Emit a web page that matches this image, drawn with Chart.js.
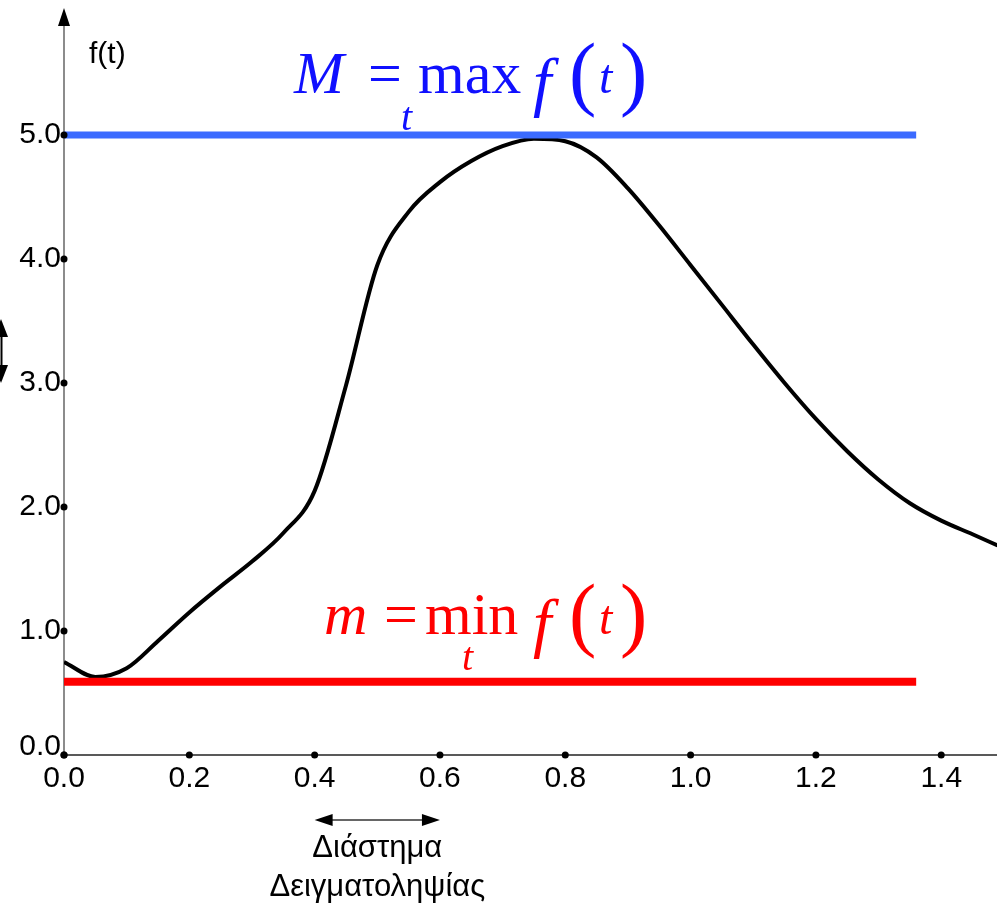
<!DOCTYPE html>
<html>
<head>
<meta charset="utf-8">
<script src="https://cdn.jsdelivr.net/npm/chart.js@4/dist/chart.umd.min.js"></script>
<style>
  html, body { margin: 0; padding: 0; background: #ffffff; }
  #wrap { width: 997px; height: 903px; position: relative; }
</style>
</head>
<body>
<div id="wrap"><canvas id="c" width="997" height="903"></canvas></div>
<script>
// ---- data ----
const tValues = [0.00, 0.05, 0.10, 0.15, 0.20, 0.25, 0.30, 0.35, 0.40, 0.45, 0.50, 0.55, 0.60, 0.65, 0.70, 0.75, 0.80, 0.85, 0.90, 0.95, 1.00, 1.05, 1.10, 1.15, 1.20, 1.25, 1.30, 1.35, 1.40, 1.45, 1.49];
const fValues = [0.75, 0.63, 0.70, 0.92, 1.15, 1.36, 1.56, 1.79, 2.13, 2.98, 3.95, 4.38, 4.62, 4.79, 4.91, 4.97, 4.95, 4.82, 4.57, 4.27, 3.95, 3.63, 3.31, 3.00, 2.71, 2.45, 2.22, 2.03, 1.89, 1.78, 1.69];
const maxLevel = 5.0;
const minLevel = 0.59;
const levelLineT = [0.0, 1.36];
const xTickValues = [0.0, 0.2, 0.4, 0.6, 0.8, 1.0, 1.2, 1.4];
const xTickLabels = ['0.0', '0.2', '0.4', '0.6', '0.8', '1.0', '1.2', '1.4'];
const yTickValues = [0, 1, 2, 3, 4, 5];
const yTickLabels = ['0.0', '1.0', '2.0', '3.0', '4.0', '5.0'];
const samplingInterval = [0.4, 0.6];
const yAxisTitle = 'f(t)';
const intervalLabel = ['Διάστημα', 'Δειγματοληψίας'];

const curveData = tValues.map((t, i) => ({ x: t, y: fValues[i] }));
const maxData = levelLineT.map(t => ({ x: t, y: maxLevel }));
const minData = levelLineT.map(t => ({ x: t, y: minLevel }));

const SANS = '"Liberation Sans", Arial, sans-serif';
const SERIF = '"Liberation Serif", "Times New Roman", serif';

function arrowHead(ctx, tipX, tipY, dirX, dirY, len, half) {
  const bx = tipX - dirX * len, by = tipY - dirY * len;
  const px = -dirY, py = dirX;
  ctx.beginPath();
  ctx.moveTo(tipX, tipY);
  ctx.lineTo(bx + px * half, by + py * half);
  ctx.lineTo(bx - px * half, by - py * half);
  ctx.closePath();
  ctx.fill();
}

const axesPlugin = {
  id: 'axesPlugin',
  beforeDatasetsDraw(chart) {
    const ctx = chart.ctx;
    const xs = chart.scales.x, ys = chart.scales.y;
    const X0 = xs.getPixelForValue(0), Y0 = ys.getPixelForValue(0);
    ctx.save();
    ctx.strokeStyle = '#666666';
    ctx.lineWidth = 1.5;
    ctx.beginPath();
    ctx.moveTo(X0, Y0);
    ctx.lineTo(X0, 22);
    ctx.stroke();
    ctx.fillStyle = '#000000';
    arrowHead(ctx, X0, 8, 0, -1, 18, 6);
    ctx.strokeStyle = '#222222';
    ctx.beginPath();
    ctx.moveTo(X0, Y0);
    ctx.lineTo(chart.chartArea.right, Y0);
    ctx.stroke();
    ctx.restore();
  },
  afterDraw(chart) {
    const ctx = chart.ctx;
    const xs = chart.scales.x, ys = chart.scales.y;
    const X0 = xs.getPixelForValue(0), Y0 = ys.getPixelForValue(0);
    ctx.save();
    ctx.fillStyle = '#000000';
    xTickValues.forEach(v => {
      ctx.beginPath();
      ctx.arc(xs.getPixelForValue(v), Y0, 3.5, 0, Math.PI * 2);
      ctx.fill();
    });
    yTickValues.forEach(v => {
      ctx.beginPath();
      ctx.arc(X0, ys.getPixelForValue(v), 3.5, 0, Math.PI * 2);
      ctx.fill();
    });
    ctx.font = '30px ' + SANS;
    ctx.textAlign = 'right';
    ctx.textBaseline = 'alphabetic';
    yTickValues.forEach((v, i) => {
      const py = ys.getPixelForValue(v);
      ctx.fillText(yTickLabels[i], X0 - 3, v === 0 ? Y0 : py + 8);
    });
    ctx.textAlign = 'center';
    xTickValues.forEach((v, i) => {
      ctx.fillText(xTickLabels[i], xs.getPixelForValue(v), Y0 + 32);
    });
    ctx.textAlign = 'left';
    ctx.font = '30px ' + SANS;
    ctx.fillText(yAxisTitle, 89, 63);

    const ax1 = xs.getPixelForValue(samplingInterval[0]);
    const ax2 = xs.getPixelForValue(samplingInterval[1]);
    const ay = 820;
    ctx.strokeStyle = '#333333';
    ctx.lineWidth = 1.5;
    ctx.beginPath();
    ctx.moveTo(ax1 + 10, ay);
    ctx.lineTo(ax2 - 10, ay);
    ctx.stroke();
    arrowHead(ctx, ax1, ay, -1, 0, 18, 6);
    arrowHead(ctx, ax2, ay, 1, 0, 18, 6);
    ctx.textAlign = 'center';
    ctx.font = '31px ' + SANS;
    const cx = (ax1 + ax2) / 2;
    ctx.fillText(intervalLabel[0], cx, 857);
    ctx.fillText(intervalLabel[1], cx, 896);

    ctx.strokeStyle = '#000000';
    ctx.lineWidth = 2;
    ctx.beginPath();
    ctx.moveTo(1.5, 330);
    ctx.lineTo(1.5, 372);
    ctx.stroke();
    arrowHead(ctx, 1, 319, 0, -1, 18, 7);
    arrowHead(ctx, 1, 383, 0, 1, 18, 7);

    function formula(color, first, op, baseY, subX, subBaseY, firstX, eqX, opX) {
      ctx.fillStyle = color;
      ctx.textAlign = 'left';
      ctx.textBaseline = 'alphabetic';
      ctx.font = 'italic 60px ' + SERIF;
      ctx.fillText(first, firstX, baseY);
      ctx.font = '60px ' + SERIF;
      ctx.fillText('=', eqX, baseY);
      ctx.fillText(op, opX, baseY);
      ctx.font = 'italic 40px ' + SERIF;
      ctx.fillText('t', subX, subBaseY);
      ctx.font = 'italic 66px ' + SERIF;
      ctx.fillText('f', 533, baseY + 11);
      ctx.font = '82px ' + SERIF;
      ctx.fillText('(', 569, baseY + 7);
      ctx.fillText(')', 620, baseY + 7);
      ctx.font = 'italic 48px ' + SERIF;
      ctx.fillText('t', 599, baseY);
    }
    formula('#1010ff', 'M', 'max', 93, 401, 130, 294, 368, 418);
    formula('#ff0000', 'm', 'min', 634, 462, 670, 324, 384, 425);
    ctx.restore();
  }
};

new Chart(document.getElementById('c'), {
  type: 'line',
  data: {
    datasets: [
      { label: 'M', data: maxData, borderColor: '#3b6bff', borderWidth: 7, pointRadius: 0, borderCapStyle: 'butt', fill: false },
      { label: 'm', data: minData, borderColor: '#ff0000', borderWidth: 8, pointRadius: 0, borderCapStyle: 'butt', fill: false },
      { label: 'f(t)', data: curveData, borderColor: '#000000', borderWidth: 4, pointRadius: 0, cubicInterpolationMode: 'monotone', fill: false }
    ]
  },
  options: {
    responsive: false,
    animation: false,
    events: [],
    layout: { padding: { left: 64, right: 0, top: 11, bottom: 148 } },
    plugins: { legend: { display: false }, tooltip: { enabled: false }, title: { display: false } },
    scales: {
      x: { type: 'linear', min: 0, max: 1.489, display: false },
      y: { type: 'linear', min: 0, max: 6.0, display: false }
    }
  },
  plugins: [axesPlugin]
});
</script>
</body>
</html>
